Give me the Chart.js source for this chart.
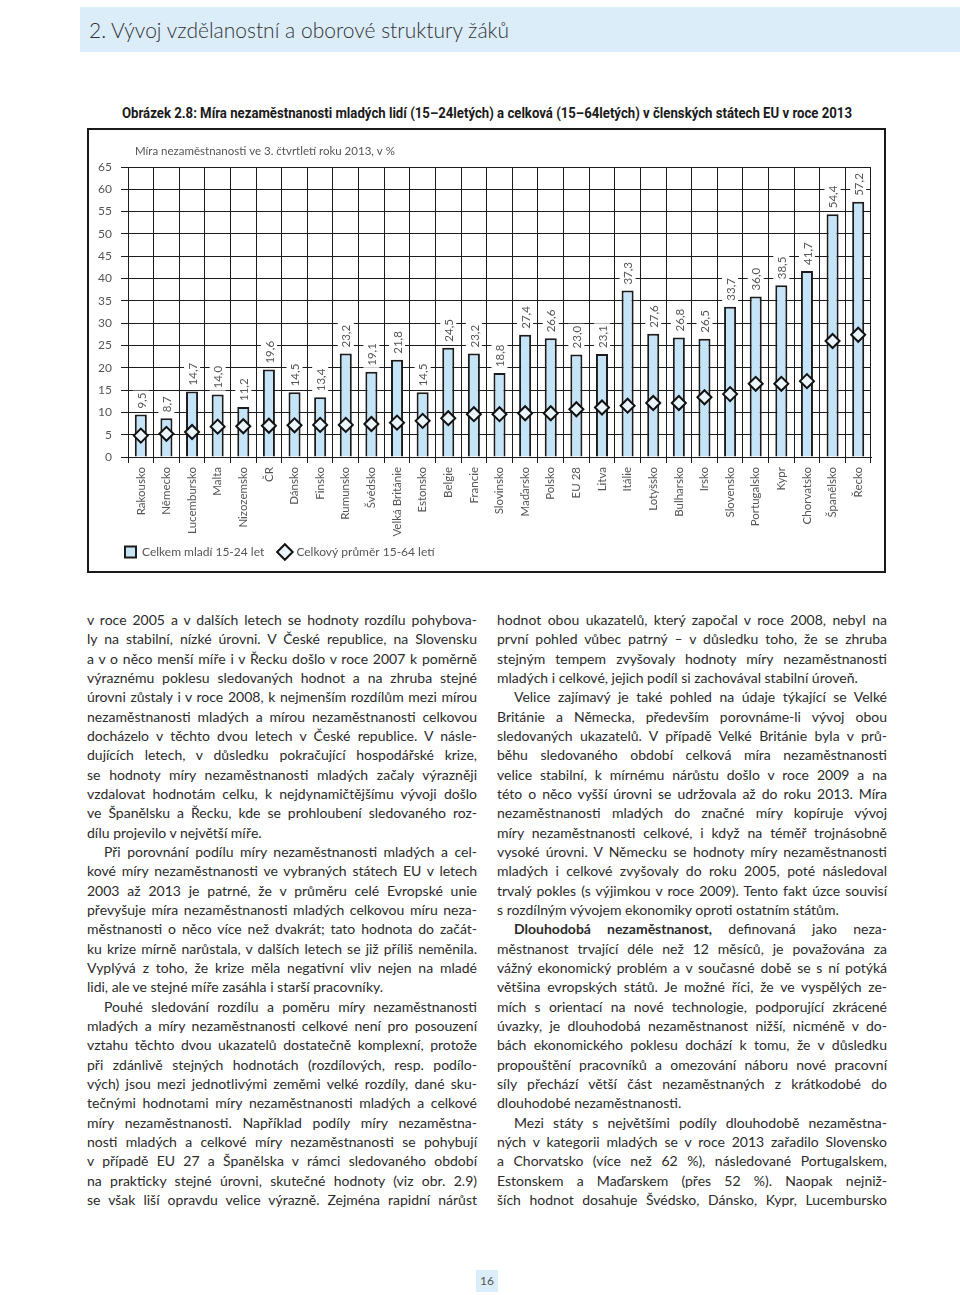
<!DOCTYPE html>
<html lang="cs">
<head>
<meta charset="utf-8">
<script src="https://cdn.jsdelivr.net/npm/chart.js@4.4.0/dist/chart.umd.min.js"></script>
<style>
  html, body { margin: 0; padding: 0; background: #fff; }
  body { width: 960px; height: 1295px; position: relative; overflow: hidden;
         font-family: Lato, "Noto Sans", sans-serif; color: #2b2b2b; }
  .band { position: absolute; left: 80px; top: 7px; width: 880px; height: 45px; background: #dcedfa; }
  .band h1 { margin: 0; position: absolute; left: 9px; top: 0; line-height: 46px; font-size: 21px;
             font-weight: 300; color: #333; white-space: nowrap; }
  .fig-title { position: absolute; left: 122px; top: 104px; line-height: 18px; font-size: 14px;
               font-family: "Liberation Sans Narrow", Roboto, sans-serif; font-weight: bold;
               color: #1a1a1a; white-space: nowrap; transform-origin: 0 0; }
  .box { position: absolute; left: 87px; top: 128px; width: 795px; height: 441px; border: 2px solid #1a1a1a; }
  .col { position: absolute; top: 610px; width: 390px; font-size: 14px; line-height: 19.33px; }
  .ln { white-space: nowrap; overflow: visible; }
  .ln.ind { padding-left: 17px; }
  .pg { position: absolute; left: 476px; top: 1270px; width: 22px; height: 22px; background: #dcedfa;
        font-size: 12px; line-height: 22px; text-align: center; color: #555; }
</style>
</head>
<body>
<div class="band"><h1>2. Vývoj vzdělanostní a oborové struktury žáků</h1></div>
<div class="fig-title" id="figTitle">Obrázek 2.8: Míra nezaměstnanosti mladých lidí (15–24letých) a celková (15–64letých) v členských státech EU v roce 2013</div>
<div class="box"><div style="position:relative;width:795px;height:441px"><canvas id="chart"></canvas></div></div>
<div class="col" id="colLeft" style="left:87px"></div>
<div class="col" id="colRight" style="left:497px"></div>
<div class="pg">16</div>

<script>
// data (Q3 2013, %)
const countries = ['Rakousko', 'Německo', 'Lucembursko', 'Malta', 'Nizozemsko', 'ČR', 'Dánsko', 'Finsko',
  'Rumunsko', 'Švédsko', 'Velká Británie', 'Estonsko', 'Belgie', 'Francie', 'Slovinsko', 'Maďarsko',
  'Polsko', 'EU 28', 'Litva', 'Itálie', 'Lotyšsko', 'Bulharsko', 'Irsko', 'Slovensko', 'Portugalsko',
  'Kypr', 'Chorvatsko', 'Španělsko', 'Řecko'];
const youthRates = [9.5, 8.7, 14.7, 14.0, 11.2, 19.6, 14.5, 13.4, 23.2, 19.1, 21.8, 14.5, 24.5, 23.2,
  18.8, 27.4, 26.6, 23.0, 23.1, 37.3, 27.6, 26.8, 26.5, 33.7, 36.0, 38.5, 41.7, 54.4, 57.2];
const totalRates = [4.8, 5.2, 5.6, 6.8, 6.9, 7.0, 7.1, 7.2, 7.2, 7.4, 7.7, 8.1, 8.7, 9.6,
  9.6, 9.8, 9.8, 10.7, 11.1, 11.5, 12.1, 12.1, 13.4, 14.1, 16.4, 16.4, 17.0, 26.0, 27.4];
const Y_MIN = 0, Y_MAX = 65, Y_STEP = 5;

const SUBTITLE = 'Míra nezaměstnanosti ve 3. čtvrtletí roku 2013, v %';
const BAR_FILL = '#c6e4f8';
const DARK = '#1c1c1c';
const TEXT = '#555';
const LEGEND_LEFT = 36;

const fmt = v => v.toFixed(1).replace('.', ',');

// subtitle above the plot
const subtitlePlugin = {
  id: 'subtitle',
  afterDraw(chart) {
    const ctx = chart.ctx;
    ctx.save();
    ctx.font = '11.5px Lato';
    ctx.fillStyle = TEXT;
    ctx.textBaseline = 'middle';
    ctx.fillText(SUBTITLE, chart.chartArea.left + 7, 21);
    ctx.restore();
  }
};

// move the legend row so it starts under the plot, like the original
const legendShift = {
  id: 'legendShift',
  afterLayout(chart) {
    const lg = chart.legend;
    const dx = LEGEND_LEFT - lg.options.labels.padding - lg.left;
    lg.left += dx;
    lg.right += dx;
  }
};

// vertical value labels on white patches above each bar
const barLabels = {
  id: 'barLabels',
  afterDatasetsDraw(chart) {
    const ctx = chart.ctx;
    const meta = chart.getDatasetMeta(0);
    ctx.save();
    ctx.font = '11.5px Lato';
    meta.data.forEach((bar, i) => {
      const txt = fmt(youthRates[i]);
      const w = ctx.measureText(txt).width;
      ctx.save();
      ctx.translate(bar.x, bar.y - 6);
      ctx.rotate(-Math.PI / 2);
      ctx.fillStyle = '#fff';
      ctx.fillRect(-2, -8, w + 4, 16);
      ctx.fillStyle = TEXT;
      ctx.textBaseline = 'middle';
      ctx.fillText(txt, 0, 1);
      ctx.restore();
    });
    ctx.restore();
  }
};

new Chart(document.getElementById('chart'), {
  data: {
    labels: countries,
    datasets: [{
      type: 'bar',
      label: 'Celkem mladí 15-24 let',
      data: youthRates,
      backgroundColor: BAR_FILL,
      borderColor: DARK,
      borderWidth: 2,
      categoryPercentage: 1,
      barPercentage: 0.47,
      pointStyle: 'rect',
      order: 2,
    }, {
      type: 'line',
      label: 'Celkový průměr 15-64 letí',
      data: totalRates,
      showLine: false,
      pointStyle: 'rectRot',
      pointRadius: 7,
      pointHoverRadius: 7,
      pointBorderWidth: 2,
      borderWidth: 2,
      borderColor: '#111',
      backgroundColor: '#eaf5fc',
      order: 1,
    }]
  },
  options: {
    animation: false,
    responsive: true,
    maintainAspectRatio: false,
    layout: { padding: { top: 37, right: 13, bottom: 3, left: 0 } },
    plugins: {
      tooltip: { enabled: false },
      legend: {
        position: 'bottom',
        align: 'start',
        labels: {
          usePointStyle: true,
          boxWidth: 11,
          boxHeight: 11,
          padding: 9,
          color: TEXT,
          font: { family: 'Lato', size: 12 },
          generateLabels: chart => chart.data.datasets.map((ds, i) => ({
            text: ds.label + '  ',
            fillStyle: ds.backgroundColor,
            strokeStyle: ds.borderColor,
            lineWidth: 2,
            pointStyle: ds.pointStyle,
            fontColor: TEXT,
            datasetIndex: i,
          })),
        }
      }
    },
    scales: {
      x: {
        ticks: { maxRotation: 90, minRotation: 90, autoSkip: false, padding: 4, color: TEXT,
                 font: { family: 'Lato', size: 11.5 } },
        grid: { offset: true, color: DARK, lineWidth: 1, tickLength: 6 },
        border: { color: DARK, width: 1 },
        afterFit(scale) { scale.height = 80; }
      },
      y: {
        min: Y_MIN,
        max: Y_MAX,
        ticks: { stepSize: Y_STEP, padding: 9, color: TEXT, font: { family: 'Lato', size: 12 } },
        grid: { color: DARK, lineWidth: 1, tickLength: 7 },
        border: { color: DARK, width: 1 },
        afterFit(scale) { scale.width = 39; }
      }
    }
  },
  plugins: [subtitlePlugin, legendShift, barLabels]
});

// body text, one entry per printed line; ind = indented paragraph start, end = paragraph end
const leftLines = [
  ['v roce 2005 a v dalších letech se hodnoty rozdílu pohybova-'],
  ['ly na stabilní, nízké úrovni. V České republice, na Slovensku'],
  ['a v o něco menší míře i v Řecku došlo v roce 2007 k poměrně'],
  ['výraznému poklesu sledovaných hodnot a na zhruba stejné'],
  ['úrovni zůstaly i v roce 2008, k nejmenším rozdílům mezi mírou'],
  ['nezaměstnanosti mladých a mírou nezaměstnanosti celkovou'],
  ['docházelo v těchto dvou letech v České republice. V násle-'],
  ['dujících letech, v důsledku pokračující hospodářské krize,'],
  ['se hodnoty míry nezaměstnanosti mladých začaly výrazněji'],
  ['vzdalovat hodnotám celku, k nejdynamičtějšímu vývoji došlo'],
  ['ve Španělsku a Řecku, kde se prohloubení sledovaného roz-'],
  ['dílu projevilo v největší míře.', 'end'],
  ['Při porovnání podílu míry nezaměstnanosti mladých a cel-', 'ind'],
  ['kové míry nezaměstnanosti ve vybraných státech EU v letech'],
  ['2003 až 2013 je patrné, že v průměru celé Evropské unie'],
  ['převyšuje míra nezaměstnanosti mladých celkovou míru neza-'],
  ['městnanosti o něco více než dvakrát; tato hodnota do začát-'],
  ['ku krize mírně narůstala, v dalších letech se již příliš neměnila.'],
  ['Vyplývá z toho, že krize měla negativní vliv nejen na mladé'],
  ['lidi, ale ve stejné míře zasáhla i starší pracovníky.', 'end'],
  ['Pouhé sledování rozdílu a poměru míry nezaměstnanosti', 'ind'],
  ['mladých a míry nezaměstnanosti celkové není pro posouzení'],
  ['vztahu těchto dvou ukazatelů dostatečně komplexní, protože'],
  ['při zdánlivě stejných hodnotách (rozdílových, resp. podílo-'],
  ['vých) jsou mezi jednotlivými zeměmi velké rozdíly, dané sku-'],
  ['tečnými hodnotami míry nezaměstnanosti mladých a celkové'],
  ['míry nezaměstnanosti. Například podíly míry nezaměstna-'],
  ['nosti mladých a celkové míry nezaměstnanosti se pohybují'],
  ['v případě EU 27 a Španělska v rámci sledovaného období'],
  ['na prakticky stejné úrovni, skutečné hodnoty (viz obr. 2.9)'],
  ['se však liší opravdu velice výrazně. Zejména rapidní nárůst'],
];
const rightLines = [
  ['hodnot obou ukazatelů, který započal v roce 2008, nebyl na'],
  ['první pohled vůbec patrný – v důsledku toho, že se zhruba'],
  ['stejným tempem zvyšovaly hodnoty míry nezaměstnanosti'],
  ['mladých i celkové, jejich podíl si zachovával stabilní úroveň.', 'end'],
  ['Velice zajímavý je také pohled na údaje týkající se Velké', 'ind'],
  ['Británie a Německa, především porovnáme-li vývoj obou'],
  ['sledovaných ukazatelů. V případě Velké Británie byla v prů-'],
  ['běhu sledovaného období celková míra nezaměstnanosti'],
  ['velice stabilní, k mírnému nárůstu došlo v roce 2009 a na'],
  ['této o něco vyšší úrovni se udržovala až do roku 2013. Míra'],
  ['nezaměstnanosti mladých do značné míry kopíruje vývoj'],
  ['míry nezaměstnanosti celkové, i když na téměř trojnásobně'],
  ['vysoké úrovni. V Německu se hodnoty míry nezaměstnanosti'],
  ['mladých i celkové zvyšovaly do roku 2005, poté následoval'],
  ['trvalý pokles (s výjimkou v roce 2009). Tento fakt úzce souvisí'],
  ['s rozdílným vývojem ekonomiky oproti ostatním státům.', 'end'],
  ['<b>Dlouhodobá nezaměstnanost,</b> definovaná jako neza-', 'ind'],
  ['městnanost trvající déle než 12 měsíců, je považována za'],
  ['vážný ekonomický problém a v současné době se s ní potýká'],
  ['většina evropských států. Je možné říci, že ve vyspělých ze-'],
  ['mích s orientací na nové technologie, podporující zkrácené'],
  ['úvazky, je dlouhodobá nezaměstnanost nižší, nicméně v do-'],
  ['bách ekonomického poklesu dochází k tomu, že v důsledku'],
  ['propouštění pracovníků a omezování náboru nové pracovní'],
  ['síly přechází větší část nezaměstnaných z krátkodobé do'],
  ['dlouhodobé nezaměstnanosti.', 'end'],
  ['Mezi státy s největšími podíly dlouhodobě nezaměstna-', 'ind'],
  ['ných v kategorii mladých se v roce 2013 zařadilo Slovensko'],
  ['a Chorvatsko (více než 62 %), následované Portugalskem,'],
  ['Estonskem a Maďarskem (přes 52 %). Naopak nejniž-'],
  ['ších hodnot dosahuje Švédsko, Dánsko, Kypr, Lucembursko'],
];

function fillColumn(el, lines) {
  el.innerHTML = lines.map(([html, flag]) =>
    `<div class="ln ${flag || ''}"><span>${html}</span></div>`).join('');
}
fillColumn(document.getElementById('colLeft'), leftLines);
fillColumn(document.getElementById('colRight'), rightLines);

function justifyLines() {
  document.querySelectorAll('.ln').forEach(el => {
    const span = el.firstChild;
    const avail = el.clientWidth - (el.classList.contains('ind') ? 17 : 0);
    const w = span.getBoundingClientRect().width;
    const txt = span.textContent;
    const spaces = (txt.match(/ /g) || []).length;
    const extra = avail - w;
    if (el.classList.contains('end')) {
      if (extra < 0) span.style.letterSpacing = (extra / txt.length) + 'px';
      return;
    }
    if (extra >= 0 && spaces) span.style.wordSpacing = (extra / spaces) + 'px';
    else span.style.letterSpacing = (extra / txt.length) + 'px';
  });
  const t = document.getElementById('figTitle');
  t.style.transform = `scaleX(${730 / t.getBoundingClientRect().width})`;
}
document.fonts.ready.then(justifyLines);
</script>
</body>
</html>
